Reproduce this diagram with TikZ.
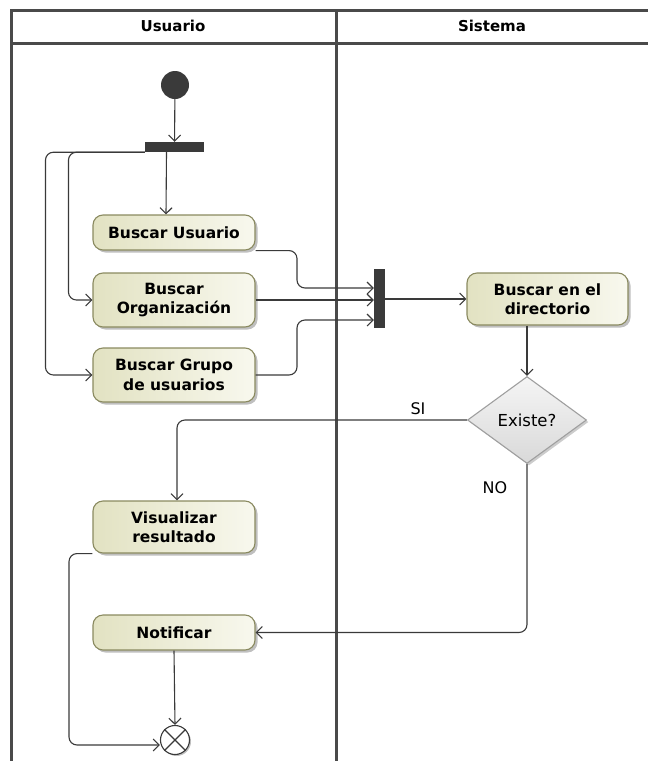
\documentclass[tikz,border=0pt]{standalone}
\usepackage{fontspec}
\setmainfont{DejaVu Sans}
\usetikzlibrary{arrows.meta,shapes.geometric,shadows,calc}
\definecolor{lanec}{HTML}{4A4A4A}
\definecolor{linec}{HTML}{3A3A3A}
\definecolor{boxl}{HTML}{E2E2C2}
\definecolor{boxr}{HTML}{F8F8EE}
\definecolor{boxd}{HTML}{8A8A60}
\tikzset{
  lane/.style={draw=lanec, line width=3pt},
  hdr/.style={font=\bfseries\fontsize{15}{17}\selectfont, text=black},
  act/.style={rounded corners=10pt, draw=boxd, line width=1.1pt, left color=boxl, right color=boxr,
    minimum width=162pt, align=center, text=black, inner sep=2pt,
    font=\bfseries\fontsize{15.5}{19.5}\selectfont,
    drop shadow={shadow xshift=2.5pt, shadow yshift=-2.5pt, opacity=0.25, fill=black}},
  bar/.style={fill=linec, draw=none, inner sep=0pt},
  arr/.style={draw=linec, line width=1.1pt, -{Straight Barb[length=6pt,width=12pt,line width=1.1pt]}},
  lbl/.style={font=\fontsize{16}{18}\selectfont, text=black},
}
\begin{document}
\begin{tikzpicture}[x=1pt,y=-1pt]
\useasboundingbox (0,0) rectangle (648,761);
\clip (0,0) rectangle (648,761);
% lanes
\draw[lane] (11,770) -- (11,10) -- (660,10);
\draw[lane] (11,43) -- (660,43);
\draw[lane] (336,10) -- (336,770);
\node[hdr] (husr) at (173,26) {Usuario};
\node[hdr] (hsis) at (492,26) {Sistema};
% nodes
\node[circle, fill=linec, minimum size=28pt, inner sep=0pt] (start) at (175,85) {};
\node[bar, minimum width=59pt, minimum height=10pt] (fork) at (174.5,147) {};
\node[act, minimum height=35pt] (bu) at (174,232.5) {Buscar Usuario};
\node[act, minimum height=54pt] (bo) at (174,300) {Buscar\\Organización};
\node[act, minimum height=54pt] (bg) at (174,375) {Buscar Grupo\\de usuarios};
\node[bar, minimum width=11pt, minimum height=59pt] (join) at (379.5,298.5) {};
\node[act, minimum width=161pt, minimum height=52pt] (bd) at (547.5,299) {Buscar en el\\directorio};
\node[diamond, draw=gray!75, line width=1.1pt, top color=gray!8, bottom color=gray!30,
      minimum width=119pt, minimum height=87pt, aspect=1.37, inner sep=0pt,
      font=\fontsize{16.5}{18}\selectfont,
      drop shadow={shadow xshift=2pt, shadow yshift=-2pt, opacity=0.2, fill=black}] (dec) at (527,420) {Existe?};
\node[act, minimum height=52pt] (vr) at (174,527) {Visualizar\\resultado};
\node[act, minimum height=35pt] (nt) at (174,632.5) {Notificar};
\node[circle, draw=linec, fill=white, line width=1.1pt, minimum size=29pt, inner sep=0pt,
      drop shadow={shadow xshift=1.5pt, shadow yshift=-1.5pt, opacity=0.25, fill=black}] (fin) at (175,740) {};
\draw[linec, line width=1.1pt] (fin.north west) -- (fin.south east) (fin.north east) -- (fin.south west);
\node[lbl] (si) at (418,409) {SI};
\node[lbl] (no) at (495,488) {NO};
% helper coordinates
\coordinate (k1) at (297,288);
\coordinate (k3) at (297,320);
\coordinate (vl) at (69,745);
% connectors
\draw[arr] (start) -- (fork);
\draw[arr] ([xshift=-8pt]fork.south) -- ([xshift=-8pt]bu.north);
\draw[arr, rounded corners=8pt] (fork.south west) -| ([xshift=-24pt]bo.west) -- (bo.west);
\draw[arr, rounded corners=8pt] (fork.south west) -| ([xshift=-47pt]bg.west) -- (bg.west);
\draw[arr, rounded corners=8pt] (bu.south east) -| (k1) -- (k1 -| join.west);
\draw[arr] (bo.east) -- (bo.east -| join.west);
\draw[arr, rounded corners=8pt] (bg.east) -| (k3) -- (k3 -| join.west);
\draw[arr] (join.east |- bd.west) -- (bd.west);
\draw[arr] (bd.south -| dec.north) -- (dec.north);
\draw[arr, rounded corners=8pt] (dec.west) -| ([xshift=3pt]vr.north);
\draw[arr, rounded corners=8pt] (dec.south) |- (nt.east);
\draw[arr, rounded corners=8pt] (vr.south west) -| (vl) -- (vl -| fin.west);
\draw[arr] (nt.south) -- (fin.north);
\end{tikzpicture}
\end{document}
